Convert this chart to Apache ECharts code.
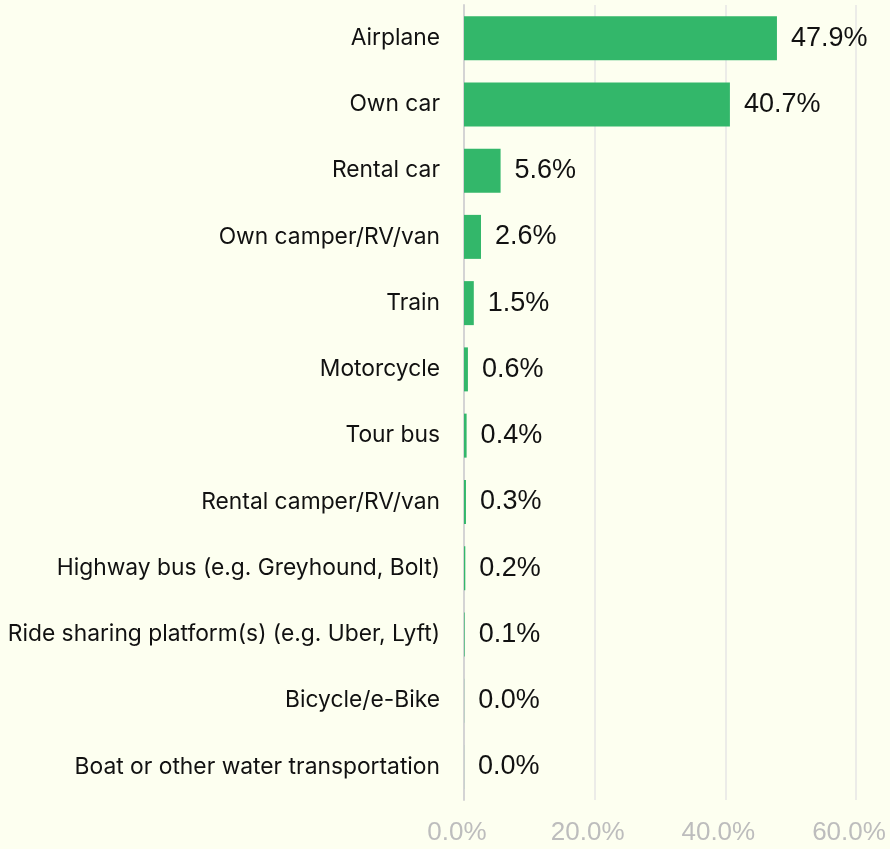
<!DOCTYPE html>
<html>
<head>
<meta charset="utf-8">
<script src="https://cdn.jsdelivr.net/npm/echarts@6/dist/echarts.min.js"></script>
<style>
  html, body { margin: 0; padding: 0; background: #fdfff0; }
  #chart { width: 890px; height: 849px; }
</style>
</head>
<body>
<div id="chart"></div>
<script>
// travel mode shares, top to bottom
var categories = [
    'Airplane',
    'Own car',
    'Rental car',
    'Own camper/RV/van',
    'Train',
    'Motorcycle',
    'Tour bus',
    'Rental camper/RV/van',
    'Highway bus (e.g. Greyhound, Bolt)',
    'Ride sharing platform(s) (e.g. Uber, Lyft)',
    'Bicycle/e-Bike',
    'Boat or other water transportation'
];
var shares = [47.9, 40.7, 5.6, 2.6, 1.5, 0.6, 0.4, 0.3, 0.2, 0.1, 0.02, 0.01];
var shareLabels = ['47.9%', '40.7%', '5.6%', '2.6%', '1.5%', '0.6%', '0.4%', '0.3%', '0.2%', '0.1%', '0.0%', '0.0%'];

var myChart = echarts.init(document.getElementById('chart'));
myChart.setOption({
    backgroundColor: '#fdfff0',
    animation: false,
    grid: {
        left: 464,
        right: 34,
        top: 5,
        bottom: 49
    },
    xAxis: {
        type: 'value',
        min: 0,
        max: 60,
        interval: 20,
        axisLine: { show: false },
        axisTick: { show: false },
        splitLine: { lineStyle: { color: '#e6e6e6', width: 1.5 } },
        axisLabel: {
            color: '#bdbdbd',
            fontSize: 26,
            fontFamily: 'Liberation Sans, Arial, sans-serif',
            margin: 20,
            padding: [0, 14, 0, 0],
            formatter: function (v) { return v.toFixed(1) + '%'; }
        }
    },
    yAxis: {
        type: 'category',
        inverse: true,
        data: categories,
        axisLine: { show: true, lineStyle: { color: '#d4d4d4', width: 2 } },
        axisTick: { show: false },
        axisLabel: {
            color: '#111',
            fontSize: 22.8,
            fontFamily: 'Inter, Roboto, sans-serif',
            margin: 24
        }
    },
    series: [{
        type: 'bar',
        data: shares,
        barWidth: 44,
        itemStyle: { color: '#33b76a' },
        label: {
            show: true,
            position: 'right',
            distance: 14,
            color: '#111',
            fontSize: 27,
            fontFamily: 'Liberation Sans, Arial, sans-serif',
            formatter: function (p) { return shareLabels[p.dataIndex]; }
        }
    }]
});
</script>
</body>
</html>
